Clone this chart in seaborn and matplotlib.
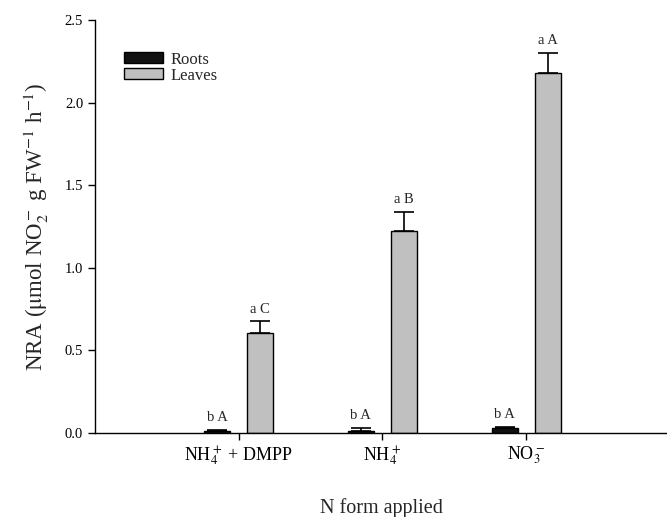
import numpy as np
import pandas as pd
import matplotlib
matplotlib.use('Agg')
import matplotlib.pyplot as plt
import seaborn as sns

# data
forms = [r'NH$_4^+$ + DMPP', r'NH$_4^+$', r'NO$_3^-$']
roots = [0.010, 0.015, 0.030]
roots_err = [0.010, 0.015, 0.005]
leaves = [0.605, 1.22, 2.18]
leaves_err = [0.070, 0.120, 0.120]
roots_lab = ['b A', 'b A', 'b A']
leaves_lab = ['a C', 'a B', 'a A']

sns.set_style('ticks')
plt.rcParams['font.family'] = ['Liberation Serif', 'DejaVu Serif']
plt.rcParams['mathtext.fontset'] = 'stix'

df = pd.DataFrame({
    'form': forms * 2,
    'tissue': ['Roots'] * 3 + ['Leaves'] * 3,
    'nra': roots + leaves,
})

fig = plt.figure(figsize=(6.67, 5.17), dpi=100)
ax = fig.add_axes([0.1424, 0.1625, 0.8576, 0.7988])

sns.barplot(data=df, x='form', y='nra', hue='tissue', order=forms,
            hue_order=['Roots', 'Leaves'],
            palette=['#111111', '#c0c0c0'], edgecolor='black', linewidth=1.0,
            width=0.6, gap=0.4, errorbar=None, ax=ax)

errs = [roots_err, leaves_err]
labs = [roots_lab, leaves_lab]
for cont, err, lab in zip(ax.containers, errs, labs):
    xs = [b.get_x() + b.get_width() / 2 for b in cont]
    ys = [b.get_height() for b in cont]
    ax.errorbar(xs, ys, yerr=[np.zeros(len(err)), err], fmt='none',
                ecolor='black', elinewidth=1.2, capsize=7, capthick=1.2)
    for x, y, e, t in zip(xs, ys, err, lab):
        ax.text(x, y + e + 0.035, t, ha='center', va='bottom', fontsize=10.5)

ax.set_xlim(-1.0, 2.98)
ax.set_ylim(0, 2.5)
ax.set_yticks([0, 0.5, 1.0, 1.5, 2.0, 2.5])
ax.set_yticklabels(['0.0', '0.5', '1.0', '1.5', '2.0', '2.5'])
ax.tick_params(axis='both', direction='out', length=5, width=1, labelsize=10.5, colors='black')
ax.tick_params(axis='x', pad=3, labelsize=13)
for s in ['top', 'right']:
    ax.spines[s].set_visible(False)
for s in ['left', 'bottom']:
    ax.spines[s].set_linewidth(1.0)
    ax.spines[s].set_color('black')

ax.set_xlabel('N form applied', fontsize=14.5, labelpad=22)
ax.set_ylabel(r'NRA ($\mathrm{\mu}$mol NO$_2^-$ g FW$^{-1}$ h$^{-1}$)', fontsize=16.5, labelpad=10)

ax.legend(loc='upper left', bbox_to_anchor=(0.025, 0.96), frameon=False,
          fontsize=12, handlelength=2.3, handleheight=0.6, labelspacing=0.0,
          handletextpad=0.5)

fig.savefig('out.png', dpi=100)
